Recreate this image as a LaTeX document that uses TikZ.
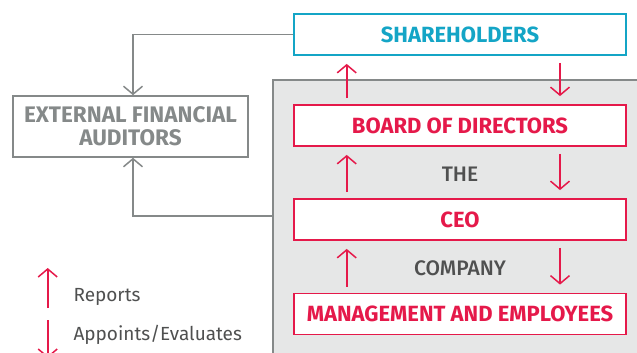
\documentclass[tikz,border=0pt]{standalone}
\usepackage{fontspec}
\setmainfont{Fira Sans}
\newfontfamily\medfont{Fira Sans Medium}
\usetikzlibrary{positioning,arrows.meta}
\definecolor{govred}{HTML}{E5194A}
\definecolor{govcyan}{HTML}{14A5C6}
\definecolor{govgray}{HTML}{858989}
\definecolor{govfill}{HTML}{E6E7E7}
\definecolor{govtext}{HTML}{4F5050}
\tikzset{
  tip/.style={-{Straight Barb[length=8pt,width=19pt,line width=1.5pt]}},
  redbox/.style={draw=govred,line width=1.8pt,fill=white,minimum width=332pt,minimum height=41pt,text=govred,font=\fontsize{22}{24}\selectfont\bfseries},
  redline/.style={govred,line width=1.6pt,tip},
  grayline/.style={govgray,line width=1.6pt,tip},
  midlabel/.style={text=govtext,font=\fontsize{21}{24}\selectfont\medfont},
  legendlabel/.style={text=govtext,font=\fontsize{19}{22}\selectfont,anchor=west}
}
\begin{document}
\begin{tikzpicture}[x=1pt,y=-1pt]
    \clip (0,0) rectangle (637,353);
    % Company area
    \node[draw=govgray,fill=govfill,line width=1.6pt,minimum width=372pt,minimum height=280pt] (comp) at (459,220) {};
    % Boxes
    \node[redbox,draw=govcyan,text=govcyan] (share) at (460,34.5) {SHAREHOLDERS};
    \node[redbox] (board) at (460,125.5) {BOARD OF DIRECTORS};
    \node[redbox] (ceo) at (460,219.5) {CEO};
    \node[redbox] (staff) at (460,314) {MANAGEMENT AND EMPLOYEES};
    \node[midlabel] (the) at (460,174) {THE};
    \node[midlabel] (company) at (460,268) {COMPANY};
    \node[draw=govgray,line width=1.6pt,minimum width=235pt,minimum height=61pt,align=center,text=govgray,
          font=\fontsize{22.5}{23}\selectfont\bfseries] (aud) at (130.5,126.5) {EXTERNAL FINANCIAL\\AUDITORS};
    % Auditor links
    \draw[grayline] (share.west) -| ([xshift=2.5pt]aud.north);
    \draw[grayline] ([yshift=4pt]comp.west) -| ([xshift=2.5pt]aud.south);
    % Reports / appoints
    \foreach \up/\low in {share/board,board/ceo,ceo/staff}{
        \draw[redline,shorten <=6pt,shorten >=8pt] ([xshift=-113.3pt]\low.north) -- ([xshift=-113.3pt]\up.south);
        \draw[redline,shorten <=7pt,shorten >=8pt] ([xshift=100pt]\up.south) -- ([xshift=100pt]\low.north);
    }
    % Legend
    \coordinate (repa) at (47.7,308);
    \coordinate (repb) at (47.7,268);
    \coordinate (appa) at (47.7,320);
    \coordinate (appb) at (47.7,358);
    \draw[redline] (repa) -- (repb);
    \draw[redline] (appa) -- (appb);
    \node[legendlabel] (reports) at (70,297) {Reports};
    \node[legendlabel] (appoints) at (70,335) {Appoints/Evaluates};
\end{tikzpicture}
\end{document}
